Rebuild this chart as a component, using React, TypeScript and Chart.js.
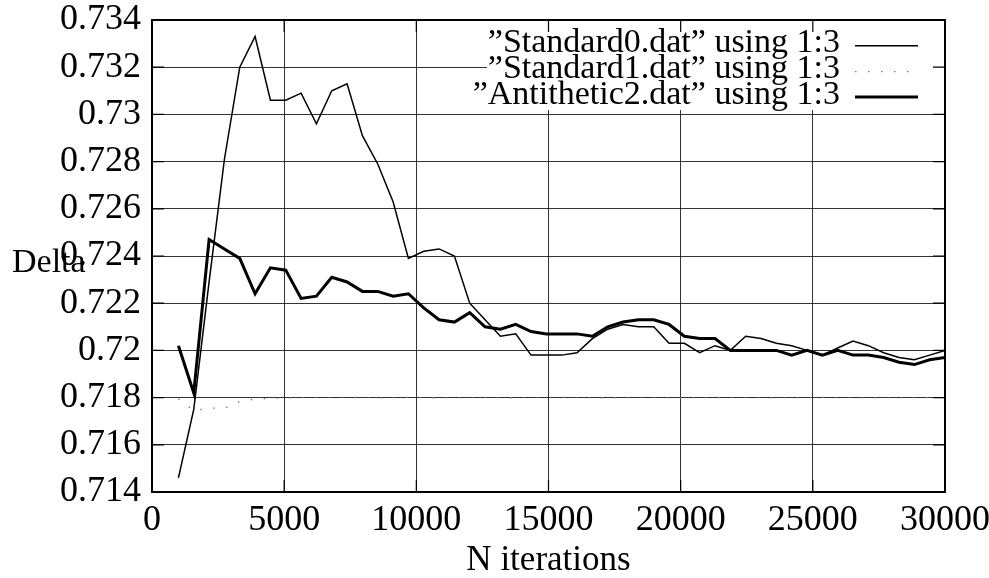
import { useEffect, useRef } from 'react';
import { Chart, registerables } from 'chart.js';

Chart.register(...registerables);

const iterations = [
  1000, 1580, 2160, 2740, 3320, 3900, 4480, 5060, 5640, 6220,
  6800, 7380, 7960, 8540, 9120, 9700, 10280, 10860, 11440, 12020,
  12600, 13180, 13760, 14340, 14920, 15500, 16080, 16660, 17240, 17820,
  18400, 18980, 19560, 20140, 20720, 21300, 21880, 22460, 23040, 23620,
  24200, 24780, 25360, 25940, 26520, 27100, 27680, 28260, 28840, 29420,
  30000,
];

const standard0 = [
  0.7146, 0.7175, 0.7229, 0.7281, 0.7320, 0.7333, 0.7306, 0.7306, 0.7309, 0.7296,
  0.7310, 0.7313, 0.7291, 0.7279, 0.7263, 0.7239, 0.7242, 0.7243, 0.7240, 0.7220,
  0.7213, 0.7206, 0.7207, 0.7198, 0.7198, 0.7198, 0.7199, 0.7205, 0.7209, 0.7211,
  0.7210, 0.7210, 0.7203, 0.7203, 0.7199, 0.7202, 0.7200, 0.7206, 0.7205, 0.7203,
  0.7202, 0.7200, 0.7198, 0.7201, 0.7204, 0.7202, 0.7199, 0.7197, 0.7196, 0.7198,
  0.7200,
];

const standard1 = [
  0.71795, 0.71745, 0.71755, 0.71755, 0.71783, 0.71794, 0.71797, 0.71799, 0.71800, 0.71801,
  0.71800, 0.71801, 0.71800, 0.71799, 0.71800, 0.71801, 0.71800, 0.71799, 0.71800, 0.71800,
  0.71801, 0.71800, 0.71799, 0.71800, 0.71800, 0.71801, 0.71800, 0.71800, 0.71799, 0.71800,
  0.71801, 0.71800, 0.71800, 0.71799, 0.71800, 0.71800, 0.71801, 0.71800, 0.71800, 0.71799,
  0.71800, 0.71800, 0.71801, 0.71800, 0.71800, 0.71799, 0.71800, 0.71800, 0.71800, 0.71800,
  0.71800,
];

const antithetic2 = [
  0.7202, 0.7182, 0.7247, 0.7243, 0.7239, 0.7224, 0.7235, 0.7234, 0.7222, 0.7223,
  0.7231, 0.7229, 0.7225, 0.7225, 0.7223, 0.7224, 0.7218, 0.7213, 0.7212, 0.7216,
  0.7210, 0.7209, 0.7211, 0.7208, 0.7207, 0.7207, 0.7207, 0.7206, 0.7210, 0.7212,
  0.7213, 0.7213, 0.7211, 0.7206, 0.7205, 0.7205, 0.7200, 0.7200, 0.7200, 0.7200,
  0.7198, 0.7200, 0.7198, 0.7200, 0.7198, 0.7198, 0.7197, 0.7195, 0.7194, 0.7196,
  0.7197,
];

const seriesLabels = [
  '\u201DStandard0.dat\u201D using 1:3',
  '\u201DStandard1.dat\u201D using 1:3',
  '\u201DAntithetic2.dat\u201D using 1:3',
];

const xTitle = 'N iterations';
const yTitle = 'Delta';

const FONT = '"Liberation Serif", "Times New Roman", serif';
const FONT_SIZE = 34;
const TICK_SIZE = 36;

const gnuplotPlugin = {
  id: 'gnuplotDecor',
  afterDatasetsDraw(chart: any) {
    const { ctx, chartArea: a } = chart;
    ctx.save();
    // key box (hides grid behind the key)
    const boxLeft = a.right - 458;
    const boxBottom = a.top + 90;
    ctx.fillStyle = '#ffffff';
    ctx.fillRect(boxLeft, a.top, a.right - boxLeft, boxBottom - a.top);

    const textRight = a.right - 105;
    const lineX1 = a.right - 90;
    const lineX2 = a.right - 27;
    const rowY = [a.top + 25.7, a.top + 51.7, a.top + 77];
    const ds = chart.data.datasets;
    ctx.font = `${FONT_SIZE}px ${FONT}`;
    ctx.textAlign = 'right';
    ctx.textBaseline = 'alphabetic';
    ctx.fillStyle = '#000';
    for (let i = 0; i < ds.length; i++) {
      ctx.fillText(ds[i].label, textRight, rowY[i] + 6.6);
      ctx.save();
      ctx.strokeStyle = ds[i].borderColor;
      ctx.lineWidth = ds[i].borderWidth;
      ctx.setLineDash(ds[i].borderDash || []);
      ctx.beginPath();
      ctx.moveTo(lineX1, rowY[i]);
      ctx.lineTo(lineX2, rowY[i]);
      ctx.stroke();
      ctx.restore();
    }
    ctx.restore();
  },
  afterDraw(chart: any) {
    const { ctx, chartArea: a, scales } = chart;
    ctx.save();
    ctx.strokeStyle = '#000';
    ctx.lineWidth = 1.2;
    const tl = 12;
    ctx.beginPath();
    for (const t of scales.x.ticks) {
      const px = scales.x.getPixelForValue(t.value);
      ctx.moveTo(px, a.bottom);
      ctx.lineTo(px, a.bottom - tl);
      ctx.moveTo(px, a.top);
      ctx.lineTo(px, a.top + tl);
    }
    for (const t of scales.y.ticks) {
      const py = scales.y.getPixelForValue(t.value);
      ctx.moveTo(a.left, py);
      ctx.lineTo(a.left + tl, py);
      ctx.moveTo(a.right, py);
      ctx.lineTo(a.right - tl, py);
    }
    ctx.stroke();
    ctx.lineWidth = 2;
    ctx.strokeRect(a.left, a.top, a.right - a.left, a.bottom - a.top);

    // horizontal y-axis title, gnuplot style
    ctx.font = `${FONT_SIZE}px ${FONT}`;
    ctx.fillStyle = '#000';
    ctx.textAlign = 'left';
    ctx.textBaseline = 'alphabetic';
    ctx.fillText(yTitle, 12, (a.top + a.bottom) / 2 + 16);
    ctx.restore();
  },
};

const zeroPadding = (s: any) => {
  s.paddingTop = 0;
  s.paddingBottom = 0;
  s.paddingLeft = 0;
  s.paddingRight = 0;
};

export default function App() {
  const canvasRef = useRef<HTMLCanvasElement | null>(null);

  useEffect(() => {
    const canvas = canvasRef.current;
    if (!canvas) return;
    const toPoints = (ys: number[]) => iterations.map((x, i) => ({ x, y: ys[i] }));
    const chart = new Chart(canvas, {
      type: 'line',
      data: {
        datasets: [
          {
            label: seriesLabels[0],
            data: toPoints(standard0),
            borderColor: '#000000',
            borderWidth: 1.5,
            pointRadius: 0,
            tension: 0,
          },
          {
            label: seriesLabels[1],
            data: toPoints(standard1),
            borderColor: '#777777',
            borderWidth: 1.3,
            borderDash: [1.5, 11.5],
            pointRadius: 0,
            tension: 0,
          },
          {
            label: seriesLabels[2],
            data: toPoints(antithetic2),
            borderColor: '#000000',
            borderWidth: 3,
            pointRadius: 0,
            tension: 0,
          },
        ],
      },
      options: {
        responsive: false,
        animation: false,
        devicePixelRatio: 1,
        layout: { padding: { left: 0, top: 20, right: 44, bottom: 0 } },
        plugins: {
          legend: { display: false },
          tooltip: { enabled: false },
        },
        scales: {
          x: {
            type: 'linear',
            min: 0,
            max: 30000,
            afterFit: (s: any) => { s.height = 86; zeroPadding(s); },
            ticks: {
              stepSize: 5000,
              maxRotation: 0,
              autoSkip: false,
              padding: 7,
              color: '#000',
              font: { family: FONT, size: TICK_SIZE },
              callback: (v: any) => String(v),
            },
            grid: { color: 'rgba(0,0,0,0.8)', lineWidth: 1, drawTicks: false },
            border: { display: false },
            title: {
              display: true,
              text: xTitle,
              color: '#000',
              font: { family: FONT, size: 35, lineHeight: 1 },
              padding: { top: 0, bottom: 0 },
            },
          },
          y: {
            type: 'linear',
            min: 0.714,
            max: 0.734,
            afterFit: (s: any) => { s.width = 152; zeroPadding(s); },
            ticks: {
              stepSize: 0.002,
              padding: 11,
              color: '#000',
              font: { family: FONT, size: TICK_SIZE },
              callback: (v: any) => String(parseFloat(Number(v).toFixed(3))),
            },
            grid: { color: 'rgba(0,0,0,0.8)', lineWidth: 1, drawTicks: false },
            border: { display: false },
          },
        },
      },
      plugins: [gnuplotPlugin],
    });
    return () => chart.destroy();
  }, []);

  return (
    <div style={{ position: 'fixed', left: 0, top: 0, width: 989, height: 578, background: '#fff' }}>
      <canvas ref={canvasRef} width={989} height={578} />
    </div>
  );
}
